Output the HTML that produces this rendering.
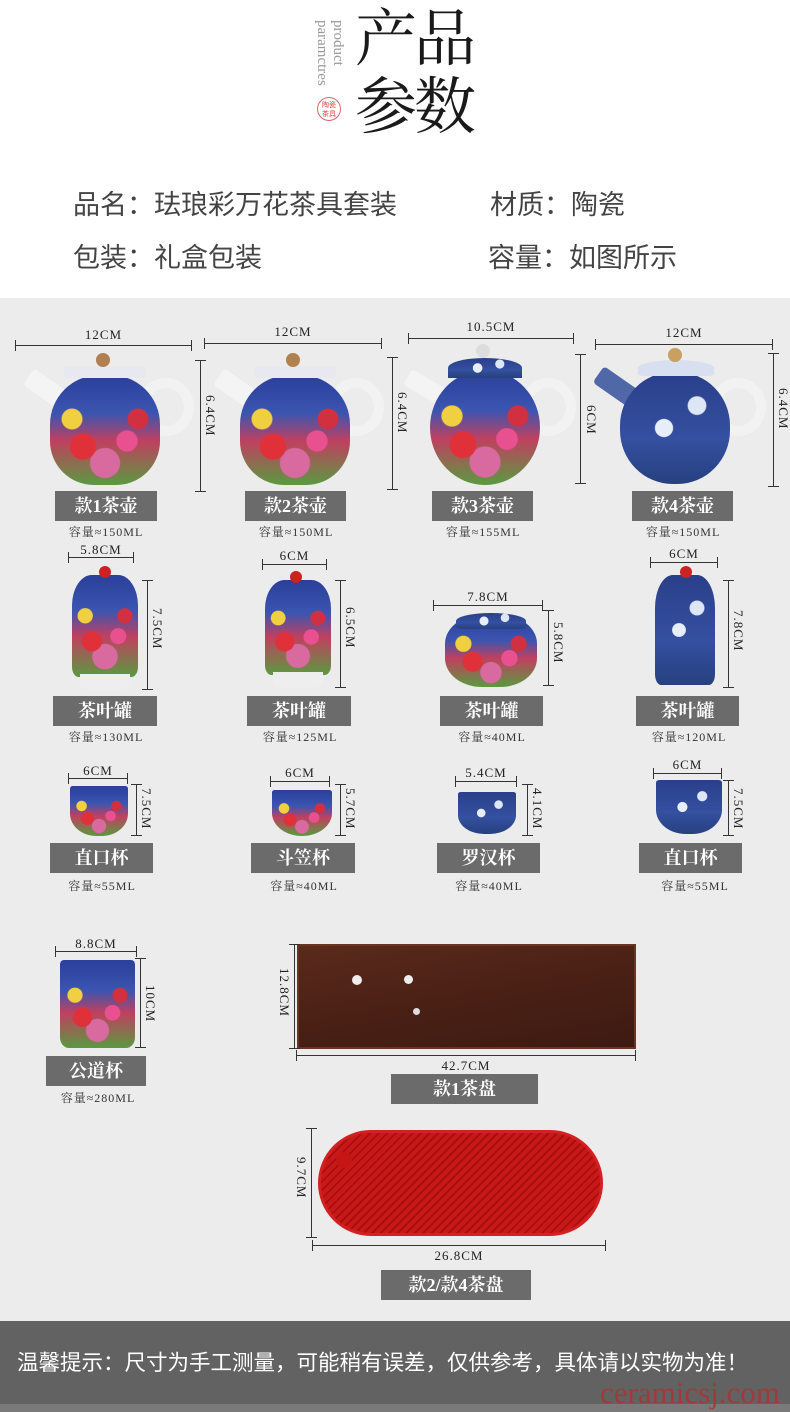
<!DOCTYPE html>
<html><head><meta charset="utf-8"><style>
*{margin:0;padding:0;box-sizing:border-box}
body{width:790px;height:1412px;position:relative;background:#fff;overflow:hidden;font-family:"Liberation Sans","Noto Sans CJK SC",sans-serif}
.a{position:absolute}
.gray{left:0;top:298px;width:790px;height:1023px;background:#ececec}
.info{font-size:27px;color:#444;letter-spacing:0px;white-space:nowrap}
.h{position:absolute;height:1px;background:#333}
.h:before,.h:after{content:"";position:absolute;top:-5px;width:1px;height:11px;background:#333}
.h:before{left:0}.h:after{right:0}
.v{position:absolute;width:1px;background:#333}
.v:before,.v:after{content:"";position:absolute;left:-5px;height:1px;width:11px;background:#333}
.v:before{top:0}.v:after{bottom:0}
.t{position:absolute;font-family:"Liberation Serif","Noto Serif CJK SC",serif;font-size:13px;color:#222;letter-spacing:1px;white-space:nowrap;text-align:center}
.vt{position:absolute;font-family:"Liberation Serif",serif;font-size:13px;color:#222;letter-spacing:1px;writing-mode:vertical-rl;white-space:nowrap}
.lb{position:absolute;height:30px;background:#6b6b6b;color:#fff;font-family:"Liberation Serif","Noto Serif CJK SC",serif;font-size:18px;font-weight:bold;text-align:center;line-height:30px;white-space:nowrap}
.cap{position:absolute;font-family:"Liberation Serif","Noto Serif CJK SC",serif;font-size:12px;color:#333;letter-spacing:1px;white-space:nowrap;text-align:center}
.flor{background:radial-gradient(circle at 30% 65%,#e0303a 0 12%,transparent 13%),radial-gradient(circle at 70% 60%,#e85090 0 10%,transparent 11%),radial-gradient(circle at 50% 80%,#d86aa0 0 14%,transparent 15%),radial-gradient(circle at 20% 40%,#f0d040 0 9%,transparent 10%),radial-gradient(circle at 80% 40%,#d03040 0 9%,transparent 10%),linear-gradient(180deg,#2a3f9a 0,#3b55b0 35%,#c04060 60%,#5a9a40 100%)}
.bw{background:radial-gradient(circle at 40% 50%,#e8eef8 0 10%,transparent 11%),radial-gradient(circle at 70% 30%,#dde6f4 0 8%,transparent 9%),linear-gradient(180deg,#2a3f8a,#3450a0 60%,#27407f)}
.white{background:#f4f4f4}
</style></head><body>
<div class="a gray"></div>

<!-- header -->
<div class="a" style="left:314px;top:20px;writing-mode:vertical-rl;font-family:'Liberation Serif',serif;font-size:15px;color:#999;line-height:16px">product<br>paramctres</div>
<div class="a" style="left:317px;top:97px;width:24px;height:24px;border:1px solid #d66;border-radius:50%;color:#d44;font-size:7px;line-height:9px;text-align:center;padding-top:3px;font-family:'Noto Sans CJK SC',sans-serif">陶瓷<br>茶具</div>
<div class="a" style="left:355px;top:6px;font-family:'Liberation Serif','Noto Serif CJK SC',serif;font-size:62px;line-height:68px;color:#1a1a1a;letter-spacing:-3px">产品<br>参数</div>

<div class="a info" style="left:73px;top:183px">品名：珐琅彩万花茶具套装</div>
<div class="a info" style="left:490px;top:183px">材质：陶瓷</div>
<div class="a info" style="left:73px;top:236px">包装：礼盒包装</div>
<div class="a info" style="left:488px;top:236px">容量：如图所示</div>

<!-- row 1 teapots -->
<div class="t" style="left:15px;top:327px;width:177px">12CM</div><div class="h" style="left:15px;top:345px;width:177px"></div>
<div class="t" style="left:204px;top:324px;width:178px">12CM</div><div class="h" style="left:204px;top:343px;width:178px"></div>
<div class="t" style="left:408px;top:319px;width:166px">10.5CM</div><div class="h" style="left:408px;top:338px;width:166px"></div>
<div class="t" style="left:595px;top:325px;width:178px">12CM</div><div class="h" style="left:595px;top:344px;width:178px"></div>
<div class="v" style="left:200px;top:360px;height:132px"></div><div class="vt" style="left:202px;top:395px">6.4CM</div>
<div class="v" style="left:392px;top:357px;height:133px"></div><div class="vt" style="left:394px;top:392px">6.4CM</div>
<div class="v" style="left:580px;top:354px;height:130px"></div><div class="vt" style="left:583px;top:405px">6CM</div>
<div class="v" style="left:773px;top:353px;height:134px"></div><div class="vt" style="left:775px;top:388px">6.4CM</div>

<div class="a white" style="left:25px;top:378px;width:40px;height:20px;border-radius:4px;transform:rotate(35deg)"></div>
<div class="a" style="left:138px;top:378px;width:56px;height:58px;border:10px solid #f2f2f2;border-radius:50%"></div>
<div class="a flor" style="left:50px;top:375px;width:110px;height:110px;border-radius:45% 45% 40% 40%"></div>
<div class="a" style="left:64px;top:366px;width:82px;height:12px;border-radius:3px;background:#e8e8f0"></div>
<div class="a" style="left:96px;top:353px;width:14px;height:14px;border-radius:50%;background:#b08050"></div>

<div class="a white" style="left:215px;top:378px;width:40px;height:20px;border-radius:4px;transform:rotate(35deg)"></div>
<div class="a" style="left:328px;top:378px;width:56px;height:58px;border:10px solid #f2f2f2;border-radius:50%"></div>
<div class="a flor" style="left:240px;top:375px;width:110px;height:110px;border-radius:45% 45% 40% 40%"></div>
<div class="a" style="left:254px;top:366px;width:82px;height:12px;border-radius:3px;background:#e8e8f0"></div>
<div class="a" style="left:286px;top:353px;width:14px;height:14px;border-radius:50%;background:#b08050"></div>

<div class="a white" style="left:405px;top:378px;width:40px;height:18px;border-radius:4px;transform:rotate(30deg)"></div>
<div class="a" style="left:520px;top:378px;width:56px;height:58px;border:10px solid #f2f2f2;border-radius:50%"></div>
<div class="a flor" style="left:430px;top:370px;width:110px;height:115px;border-radius:50%"></div>
<div class="a bw" style="left:448px;top:358px;width:74px;height:20px;border-radius:50% 50% 0 0"></div>
<div class="a" style="left:476px;top:344px;width:14px;height:14px;border-radius:50%;background:#ddd"></div>

<div class="a" style="left:594px;top:378px;width:48px;height:20px;border-radius:4px;transform:rotate(35deg);background:#5068a8"></div>
<div class="a" style="left:710px;top:378px;width:56px;height:58px;border:10px solid #f2f2f2;border-radius:50%"></div>
<div class="a bw" style="left:620px;top:372px;width:110px;height:112px;border-radius:48%"></div>
<div class="a" style="left:638px;top:360px;width:76px;height:16px;border-radius:50% 50% 10% 10%;background:#d8dff0"></div>
<div class="a" style="left:668px;top:348px;width:14px;height:14px;border-radius:50%;background:#c9a060"></div>

<div class="lb" style="left:55px;top:491px;width:102px">款1茶壶</div><div class="cap" style="left:45px;top:523px;width:122px">容量≈150ML</div>
<div class="lb" style="left:245px;top:491px;width:101px">款2茶壶</div><div class="cap" style="left:235px;top:523px;width:122px">容量≈150ML</div>
<div class="lb" style="left:432px;top:491px;width:101px">款3茶壶</div><div class="cap" style="left:422px;top:523px;width:122px">容量≈155ML</div>
<div class="lb" style="left:632px;top:491px;width:101px">款4茶壶</div><div class="cap" style="left:622px;top:523px;width:122px">容量≈150ML</div>

<!-- row 2 caddies -->
<div class="t" style="left:68px;top:542px;width:66px">5.8CM</div><div class="h" style="left:68px;top:557px;width:66px"></div>
<div class="t" style="left:262px;top:548px;width:65px">6CM</div><div class="h" style="left:262px;top:564px;width:65px"></div>
<div class="t" style="left:433px;top:589px;width:110px">7.8CM</div><div class="h" style="left:433px;top:605px;width:110px"></div>
<div class="t" style="left:650px;top:546px;width:68px">6CM</div><div class="h" style="left:650px;top:562px;width:68px"></div>
<div class="v" style="left:147px;top:580px;height:110px"></div><div class="vt" style="left:149px;top:608px">7.5CM</div>
<div class="v" style="left:340px;top:580px;height:108px"></div><div class="vt" style="left:342px;top:607px">6.5CM</div>
<div class="v" style="left:548px;top:610px;height:76px"></div><div class="vt" style="left:550px;top:622px">5.8CM</div>
<div class="v" style="left:728px;top:580px;height:108px"></div><div class="vt" style="left:730px;top:610px">7.8CM</div>

<div class="a flor" style="left:72px;top:575px;width:66px;height:102px;border-radius:30% 30% 10% 10%"></div>
<div class="a" style="left:99px;top:566px;width:12px;height:12px;border-radius:50%;background:#c22"></div>
<div class="a" style="left:80px;top:674px;width:50px;height:16px;background:#eee;border-radius:0 0 30% 30%"></div>
<div class="a flor" style="left:265px;top:580px;width:66px;height:95px;border-radius:30% 30% 10% 10%"></div>
<div class="a" style="left:290px;top:571px;width:12px;height:12px;border-radius:50%;background:#c22"></div>
<div class="a" style="left:273px;top:672px;width:50px;height:16px;background:#eee;border-radius:0 0 30% 30%"></div>
<div class="a flor" style="left:445px;top:615px;width:92px;height:72px;border-radius:40%"></div>
<div class="a bw" style="left:456px;top:613px;width:70px;height:16px;border-radius:50% 50% 10% 10%"></div>
<div class="a bw" style="left:655px;top:575px;width:60px;height:110px;border-radius:30% 30% 10% 10%"></div>
<div class="a" style="left:680px;top:566px;width:12px;height:12px;border-radius:50%;background:#c22"></div>

<div class="lb" style="left:53px;top:696px;width:104px">茶叶罐</div><div class="cap" style="left:45px;top:728px;width:122px">容量≈130ML</div>
<div class="lb" style="left:247px;top:696px;width:104px">茶叶罐</div><div class="cap" style="left:239px;top:728px;width:122px">容量≈125ML</div>
<div class="lb" style="left:440px;top:696px;width:103px">茶叶罐</div><div class="cap" style="left:431px;top:728px;width:122px">容量≈40ML</div>
<div class="lb" style="left:636px;top:696px;width:103px">茶叶罐</div><div class="cap" style="left:628px;top:728px;width:122px">容量≈120ML</div>

<!-- row 3 cups -->
<div class="t" style="left:68px;top:763px;width:60px">6CM</div><div class="h" style="left:68px;top:778px;width:60px"></div>
<div class="t" style="left:270px;top:765px;width:60px">6CM</div><div class="h" style="left:270px;top:781px;width:60px"></div>
<div class="t" style="left:455px;top:765px;width:62px">5.4CM</div><div class="h" style="left:455px;top:781px;width:62px"></div>
<div class="t" style="left:653px;top:757px;width:69px">6CM</div><div class="h" style="left:653px;top:773px;width:69px"></div>
<div class="v" style="left:136px;top:784px;height:52px"></div><div class="vt" style="left:138px;top:788px">7.5CM</div>
<div class="v" style="left:340px;top:784px;height:52px"></div><div class="vt" style="left:342px;top:788px">5.7CM</div>
<div class="v" style="left:527px;top:784px;height:52px"></div><div class="vt" style="left:529px;top:788px">4.1CM</div>
<div class="v" style="left:728px;top:780px;height:56px"></div><div class="vt" style="left:730px;top:788px">7.5CM</div>

<div class="a flor" style="left:70px;top:786px;width:58px;height:50px;border-radius:5% 5% 45% 45%"></div>
<div class="a flor" style="left:272px;top:790px;width:60px;height:46px;border-radius:5% 5% 50% 50%"></div>
<div class="a bw" style="left:458px;top:792px;width:58px;height:42px;border-radius:5% 5% 45% 45%"></div>
<div class="a bw" style="left:656px;top:780px;width:66px;height:54px;border-radius:5% 5% 45% 45%"></div>

<div class="lb" style="left:50px;top:843px;width:103px">直口杯</div><div class="cap" style="left:41px;top:877px;width:122px">容量≈55ML</div>
<div class="lb" style="left:251px;top:843px;width:104px">斗笠杯</div><div class="cap" style="left:243px;top:877px;width:122px">容量≈40ML</div>
<div class="lb" style="left:437px;top:843px;width:103px">罗汉杯</div><div class="cap" style="left:428px;top:877px;width:122px">容量≈40ML</div>
<div class="lb" style="left:639px;top:843px;width:103px">直口杯</div><div class="cap" style="left:634px;top:877px;width:122px">容量≈55ML</div>

<!-- fairness cup -->
<div class="t" style="left:55px;top:936px;width:82px">8.8CM</div><div class="h" style="left:55px;top:951px;width:82px"></div>
<div class="v" style="left:140px;top:958px;height:90px"></div><div class="vt" style="left:142px;top:985px">10CM</div>
<div class="a flor" style="left:60px;top:960px;width:75px;height:88px;border-radius:5% 5% 12% 12%"></div>
<div class="lb" style="left:46px;top:1056px;width:100px">公道杯</div><div class="cap" style="left:37px;top:1089px;width:122px">容量≈280ML</div>

<!-- tray 1 -->
<div class="a" style="left:297px;top:944px;width:339px;height:105px;background:linear-gradient(170deg,#5a2a1c,#4a2015 50%,#3e1a12);border:2px solid #6a3424"></div>
<div class="a" style="left:352px;top:975px;width:10px;height:10px;border-radius:50%;background:#eee"></div>
<div class="a" style="left:404px;top:975px;width:9px;height:9px;border-radius:50%;background:#eee"></div>
<div class="a" style="left:413px;top:1008px;width:7px;height:7px;border-radius:50%;background:#ddd"></div>
<div class="v" style="left:294px;top:944px;height:105px"></div><div class="vt" style="left:276px;top:968px">12.8CM</div>
<div class="h" style="left:296px;top:1055px;width:340px"></div><div class="t" style="left:296px;top:1058px;width:340px">42.7CM</div>
<div class="lb" style="left:391px;top:1074px;width:147px">款1茶盘</div>

<!-- tray 2 -->
<div class="a" style="left:318px;top:1130px;width:285px;height:106px;border-radius:53px;background:repeating-linear-gradient(135deg,#c81818 0 4px,#a81010 4px 6px);border:3px solid #d42020"></div>
<div class="a" style="left:336px;top:1152px;width:16px;height:16px;border-radius:50%;background:#c51515"></div>
<div class="v" style="left:311px;top:1128px;height:110px"></div><div class="vt" style="left:293px;top:1157px">9.7CM</div>
<div class="h" style="left:312px;top:1245px;width:294px"></div><div class="t" style="left:312px;top:1248px;width:294px">26.8CM</div>
<div class="lb" style="left:381px;top:1270px;width:150px">款2/款4茶盘</div>

<!-- footer -->
<div class="a" style="left:0;top:1321px;width:790px;height:83px;background:#626262"></div>
<div class="a" style="left:0;top:1404px;width:790px;height:8px;background:#7a7a7a"></div>
<div class="a" style="left:17px;top:1346px;font-size:21.5px;color:#fff;white-space:nowrap">温馨提示：尺寸为手工测量，可能稍有误差，仅供参考，具体请以实物为准！</div>
<div class="a" style="left:600px;top:1375px;font-family:'Liberation Serif',serif;font-size:31px;color:#b03030;opacity:.8;white-space:nowrap">ceramicsj.com</div>
</body></html>
